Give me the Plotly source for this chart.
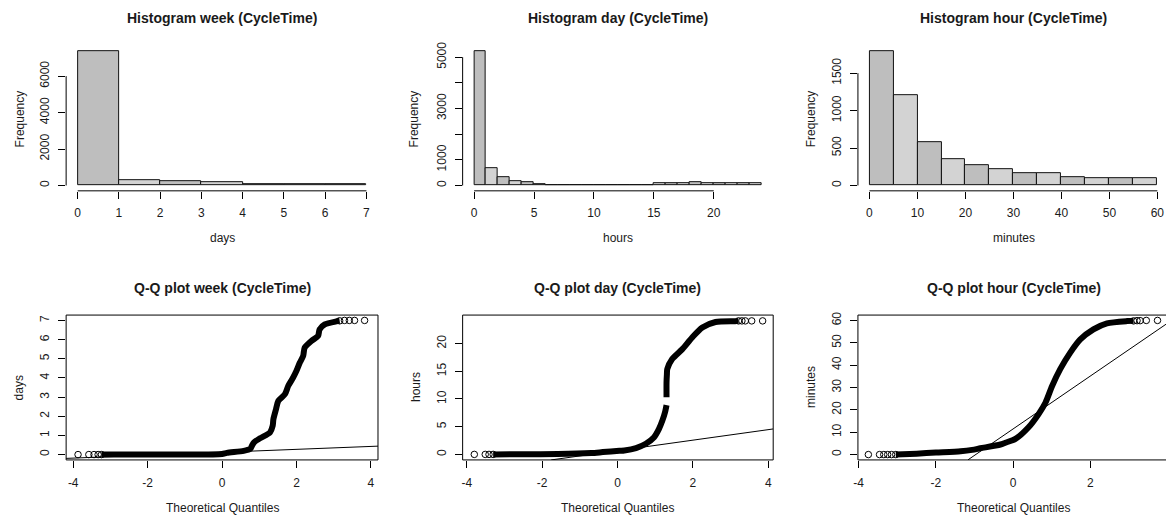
import plotly.graph_objects as go

W, H = 1166, 515
FONT = "Liberation Sans, Arial, sans-serif"
TXT = "#1a1a1a"

# ---------------- data ----------------
week_edges = [0, 1, 2, 3, 4, 5, 6, 7]
week_counts = [7350, 290, 236, 182, 55, 50, 45]

day_edges = list(range(0, 25))
day_counts = [5220, 683, 335, 168, 129, 39, 26, 26,
              3, 2, 1, 2, 3, 3, 3,
              77, 77, 77, 129, 77, 77, 77, 77, 77]

hour_edges = [0, 5, 10, 15, 20, 25, 30, 35, 40, 45, 50, 55, 60]
hour_counts = [1789, 1212, 577, 346, 271, 213, 166, 168, 115, 98, 98, 100]

# Q-Q plot (theoretical quantile, sample value), dense parts
qq_week_x = [-3.24, -2.0, -1.0, 0.0, 0.13, 0.58, 0.76, 0.80, 0.86, 1.02, 1.29, 1.36,
             1.38, 1.45, 1.51, 1.69, 1.78, 1.91, 2.0, 2.09, 2.18, 2.22, 2.4, 2.58,
             2.62, 2.76, 3.07, 3.16]
qq_week_y = [0, 0, 0, 0.03, 0.09, 0.19, 0.3, 0.45, 0.64, 0.85, 1.16, 1.5,
             1.85, 2.37, 2.8, 3.15, 3.59, 4.02, 4.37, 4.8, 5.15, 5.58, 5.93, 6.19,
             6.53, 6.79, 6.95, 6.98]
qq_week_tail_x = [-3.87, -3.58, -3.44, -3.33, -3.24, 3.16, 3.29, 3.42, 3.56, 3.83]
qq_week_tail_y = [0, 0, 0, 0, 0, 6.98, 7.0, 7.0, 7.0, 7.0]
qq_week_line_x = [-4.2, 4.2]
qq_week_line_y = [-0.2, 0.44]

qq_day_x = [-3.30, -2.5, -1.58, -0.70, -0.39, 0.05, 0.18, 0.49, 0.75, 0.97, 1.10, 1.19,
            1.26, 1.30, None,
            1.30, 1.30, 1.31, 1.32, 1.45, 1.72, 1.98, 2.25, 2.6, 3.12, 3.21]
qq_day_y = [0, 0.02, 0.05, 0.24, 0.41, 0.66, 0.72, 1.14, 1.92, 3.1, 4.6, 6.1,
            7.6, 8.9, None,
            10.3, 13.0, 14.5, 15.4, 17.2, 19.0, 21.1, 22.9, 23.9, 24.05, 24.1]
qq_day_tail_x = [-3.80, -3.51, -3.41, -3.30, 3.21, 3.30, 3.39, 3.56, 3.85]
qq_day_tail_y = [0, 0, 0, 0, 24.1, 24.1, 24.1, 24.1, 24.1]
qq_day_line_x = [-1.76, 4.14]
qq_day_line_y = [-1.0, 4.6]

qq_hour_x = [-3.04, -2.5, -2.0, -1.36, -1.06, -0.85, -0.33, -0.2, 0.06, 0.40, 0.66, 0.84,
             1.01, 1.22, 1.48, 1.74, 2.08, 2.43, 2.95, 3.12]
qq_hour_y = [0, 0.4, 0.9, 1.5, 2.1, 2.8, 4.5, 5.3, 7.0, 12.2, 18.1, 23.3,
             30.7, 38.2, 45.6, 51.5, 56.0, 58.7, 59.7, 59.8]
qq_hour_tail_x = [-3.75, -3.46, -3.35, -3.25, -3.15, -3.04, 3.12, 3.21, 3.29, 3.45, 3.74]
qq_hour_tail_y = [0, 0, 0, 0, 0, 0, 59.8, 59.9, 59.9, 60, 60]
qq_hour_line_x = [-1.17, 3.96]
qq_hour_line_y = [-2.36, 58.3]

titles = ["Histogram week (CycleTime)", "Histogram day (CycleTime)", "Histogram hour (CycleTime)",
          "Q-Q plot week (CycleTime)", "Q-Q plot day (CycleTime)", "Q-Q plot hour (CycleTime)"]
xlabels = ["days", "hours", "minutes", "Theoretical Quantiles", "Theoretical Quantiles", "Theoretical Quantiles"]
ylabels = ["Frequency", "Frequency", "Frequency", "days", "hours", "minutes"]

hist_xticks = [[0, 1, 2, 3, 4, 5, 6, 7], [0, 5, 10, 15, 20], [0, 10, 20, 30, 40, 50, 60]]
hist_yticks = [[0, 2000, 4000, 6000], [0, 1000, 2000, 3000, 4000, 5000], [0, 500, 1000, 1500]]
hist_ytext = [["0", "2000", "4000", "6000"], ["0", "1000", "", "3000", "", "5000"], ["0", "500", "1000", "1500"]]
qq_xticks = [-4, -2, 0, 2, 4]
qq_yticks = [[0, 1, 2, 3, 4, 5, 6, 7], [0, 5, 10, 15, 20], [0, 10, 20, 30, 40, 50, 60]]

# ---------------- layout geometry (pixels) ----------------
col_px = [(61.4, 374.6), (459.6, 771.5), (856.6, 1166.0)]
top_row = (42.5, 188.3)
bot_row = (313.5, 459.5)
hist_xrange = [[-0.28, 7.28], [-0.96, 24.96], [-2.4, 61.8]]
qq_xrange = [[-4.19, 4.19], [-4.11, 4.13], [-4.02, 3.96]]
qq_yrange = [[-0.28, 7.28], [-1.0, 25.15], [-2.4, 62.4]]

def fx(p):
    return p / W

def fy(p):
    return 1 - p / H

fig = go.Figure()
layout = dict(width=W, height=H, margin=dict(l=0, r=0, t=0, b=0),
              plot_bgcolor="white", paper_bgcolor="white", showlegend=False,
              font=dict(family=FONT, size=12, color=TXT), bargap=0)
shapes = []
annotations = []

axis_common = dict(showgrid=False, zeroline=False, showline=False, ticks="outside",
                   ticklen=7, tickwidth=1, tickcolor="black", tickmode="array",
                   tickfont=dict(family=FONT, size=12, color=TXT), fixedrange=True)

hist_data = [(week_edges, week_counts), (day_edges, day_counts), (hour_edges, hour_counts)]
palette = ["#BEBEBE", "#D3D3D3"]

for i in range(3):
    n = i + 1
    xa = "x" if n == 1 else f"x{n}"
    ya = "y" if n == 1 else f"y{n}"
    edges, counts = hist_data[i]
    centers = [(edges[k] + edges[k + 1]) / 2 for k in range(len(counts))]
    widths = [edges[k + 1] - edges[k] for k in range(len(counts))]
    colors = [palette[k % 2] for k in range(len(counts))]
    fig.add_trace(go.Bar(x=centers, y=counts, width=widths, xaxis=xa, yaxis=ya,
                         marker=dict(color=colors, line=dict(color="#111111", width=1)),
                         hoverinfo="x+y"))
    ymax = max(counts)
    layout["xaxis" if n == 1 else f"xaxis{n}"] = dict(
        axis_common, domain=[fx(col_px[i][0]), fx(col_px[i][1])], range=hist_xrange[i],
        anchor=ya, tickvals=hist_xticks[i], ticktext=[str(v) for v in hist_xticks[i]],
        ticklabelstandoff=4)
    layout["yaxis" if n == 1 else f"yaxis{n}"] = dict(
        axis_common, domain=[fy(top_row[1]), fy(top_row[0])], range=[-0.04 * ymax, 1.04 * ymax],
        anchor=xa, tickvals=hist_yticks[i], ticktext=hist_ytext[i], tickangle=-90,
        ticklabelstandoff=4)
    # R-style axis lines spanning the tick range only
    shapes.append(dict(type="line", xref=xa, yref=f"{ya} domain", x0=hist_xticks[i][0],
                       x1=hist_xticks[i][-1], y0=0, y1=0, line=dict(color="black", width=1)))
    shapes.append(dict(type="line", xref=f"{xa} domain", yref=ya, x0=0, x1=0,
                       y0=hist_yticks[i][0], y1=hist_yticks[i][-1], line=dict(color="black", width=1)))

qq_sets = [
    (qq_week_x, qq_week_y, qq_week_tail_x, qq_week_tail_y, qq_week_line_x, qq_week_line_y),
    (qq_day_x, qq_day_y, qq_day_tail_x, qq_day_tail_y, qq_day_line_x, qq_day_line_y),
    (qq_hour_x, qq_hour_y, qq_hour_tail_x, qq_hour_tail_y, qq_hour_line_x, qq_hour_line_y),
]

for i in range(3):
    n = i + 4
    xa, ya = f"x{n}", f"y{n}"
    dx, dy, tx, ty, lx, ly = qq_sets[i]
    fig.add_trace(go.Scatter(x=dx, y=dy, mode="lines", xaxis=xa, yaxis=ya,
                             line=dict(color="black", width=6, shape="spline", smoothing=0.7),
                             connectgaps=False))
    fig.add_trace(go.Scatter(x=tx, y=ty, mode="markers", xaxis=xa, yaxis=ya,
                             marker=dict(symbol="circle-open", size=6.5, color="black",
                                         line=dict(width=1, color="black"))))
    fig.add_trace(go.Scatter(x=lx, y=ly, mode="lines", xaxis=xa, yaxis=ya,
                             line=dict(color="black", width=1)))
    layout[f"xaxis{n}"] = dict(
        axis_common, domain=[fx(col_px[i][0]), fx(col_px[i][1])], range=qq_xrange[i],
        anchor=ya, tickvals=qq_xticks, ticktext=[str(v) for v in qq_xticks],
        ticklabelstandoff=5)
    layout[f"yaxis{n}"] = dict(
        axis_common, domain=[fy(bot_row[1]), fy(bot_row[0])], range=qq_yrange[i],
        anchor=xa, tickvals=qq_yticks[i], ticktext=[str(v) for v in qq_yticks[i]],
        tickangle=-90, ticklabelstandoff=4)
    shapes.append(dict(type="rect", xref=f"{xa} domain", yref=f"{ya} domain",
                       x0=0, x1=(1.0 if i < 2 else 1.02), y0=0, y1=1,
                       line=dict(color="black", width=1), fillcolor="rgba(0,0,0,0)"))

# titles and axis labels
centers_px = [(c[0] + c[1]) / 2 for c in col_px]
centers_px[2] = 1013.0
title_y = [14.5, 286.0]
xlab_y = [235.5, 507.5]
ylab_x = [[15.0, 410.7, 809.3], [15.0, 413.3, 810.0]]
row_mid = [(top_row[0] + top_row[1]) / 2, (bot_row[0] + bot_row[1]) / 2]

for k in range(6):
    r, c = divmod(k, 3)
    annotations.append(dict(text=f"<b>{titles[k]}</b>", xref="paper", yref="paper",
                            x=fx(centers_px[c]), y=fy(title_y[r]), xanchor="center", yanchor="middle",
                            showarrow=False, font=dict(family=FONT, size=14, color=TXT)))
    annotations.append(dict(text=xlabels[k], xref="paper", yref="paper",
                            x=fx(centers_px[c]), y=fy(xlab_y[r]), xanchor="center", yanchor="middle",
                            showarrow=False, font=dict(family=FONT, size=12, color=TXT)))
    annotations.append(dict(text=ylabels[k], xref="paper", yref="paper", textangle=-90,
                            x=fx(ylab_x[r][c]), y=fy(row_mid[r]), xanchor="center", yanchor="middle",
                            showarrow=False, font=dict(family=FONT, size=12, color=TXT)))

layout["shapes"] = shapes
layout["annotations"] = annotations
fig.update_layout(**layout)
fig.write_html("out.html")
